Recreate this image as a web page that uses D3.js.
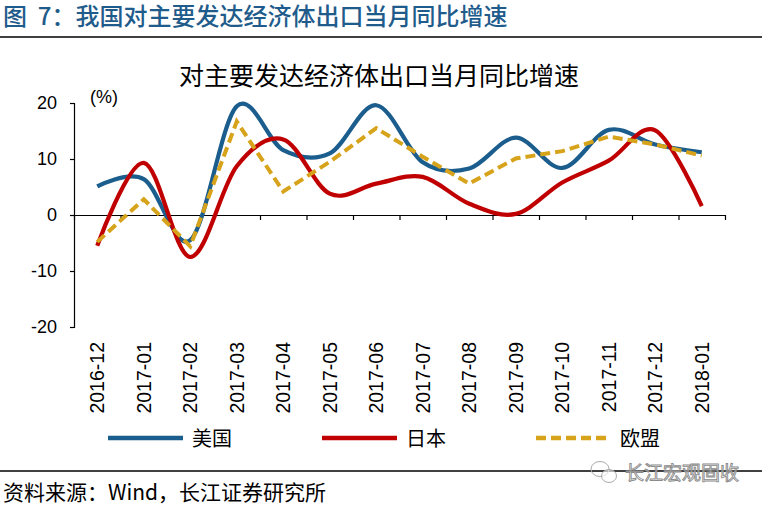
<!DOCTYPE html>
<html>
<head>
<meta charset="utf-8">
<script src="https://cdn.jsdelivr.net/npm/d3@7"></script>
<style>
  html, body { margin: 0; padding: 0; background: #fff; }
  svg { display: block; }
  text { white-space: pre; }
</style>
</head>
<body>
<svg id="chart" width="762" height="506"></svg>
<script>
// ---- data ----
const categories = ["2016-12","2017-01","2017-02","2017-03","2017-04","2017-05","2017-06",
                    "2017-07","2017-08","2017-09","2017-10","2017-11","2017-12","2018-01"];
const usValues = [5.1, 6.4, -4.5, 19.4, 11.6, 11.0, 19.6, 9.4, 8.3, 13.8, 8.4, 15.2, 12.6, 11.2];
const jpValues = [-5.5, 9.3, -7.5, 8.7, 13.5, 3.8, 5.6, 6.8, 2.0, 0.2, 5.8, 9.7, 15.1, 1.6];
const euValues = [-4.8, 2.8, -5.6, 16.7, 4.2, 9.5, 15.5, 10.4, 5.6, 10.1, 11.4, 14.0, 12.6, 10.6];
const seriesNames = ["美国", "日本", "欧盟"];
const yTicks = [-20, -10, 0, 10, 20];
const headerText = "图  7：我国对主要发达经济体出口当月同比增速";
const chartTitle = "对主要发达经济体出口当月同比增速";
const unitLabel = "(%)";
const sourceText = "资料来源：Wind，长江证券研究所";
const watermarkText = "长江宏观固收";

// ---- setup ----
const svg = d3.select("#chart");
const latin = "'Liberation Sans', Arial, 'Noto Sans CJK SC', sans-serif";
const cjk = "'Noto Sans CJK SC', 'Liberation Sans', sans-serif";
const colors = ["#1B5E8E", "#C00000", "#D6A31A"];

const x = d3.scaleBand().domain(categories).range([74, 725]).padding(0);
const y = d3.scaleLinear().domain([-20, 20]).range([327, 103]);
const cx = c => x(c) + x.bandwidth() / 2;

// header
svg.append("text").attr("x", 3).attr("y", 25)
  .attr("font-family", cjk).attr("font-size", 24).attr("font-weight", 500)
  .attr("fill", "#1F5C8B").text(headerText);
svg.append("line").attr("x1", 0).attr("x2", 762).attr("y1", 37).attr("y2", 37)
  .attr("stroke", "#000").attr("stroke-width", 1.5);

// chart title
svg.append("text").attr("x", 379).attr("y", 85).attr("text-anchor", "middle")
  .attr("font-family", cjk).attr("font-size", 25).attr("fill", "#000").text(chartTitle);

// y axis
const yAxis = svg.append("g").attr("transform", "translate(74,0)")
  .call(d3.axisLeft(y).tickValues(yTicks).tickSize(4).tickPadding(13).tickFormat(d => String(d)));
yAxis.select(".domain").attr("stroke", "#000").attr("stroke-width", 1.2);
yAxis.selectAll(".tick line").attr("stroke", "#000").attr("stroke-width", 1.2);
yAxis.selectAll("text").attr("font-family", latin).attr("font-size", 18).attr("fill", "#000");

svg.append("text").attr("x", 90).attr("y", 103)
  .attr("font-family", latin).attr("font-size", 18).attr("fill", "#000").text(unitLabel);

// x axis line at zero with ticks at band edges
const edges = d3.scaleLinear().domain([0, categories.length]).range(x.range());
const xAxis = svg.append("g").attr("transform", `translate(0,${y(0)})`)
  .call(d3.axisBottom(edges).tickValues(d3.range(categories.length + 1)).tickSize(5).tickSizeOuter(0).tickFormat(""));
xAxis.select(".domain").attr("stroke", "#000").attr("stroke-width", 1.2);
xAxis.selectAll(".tick line").attr("stroke", "#000").attr("stroke-width", 1.2);

// x labels at bottom, rotated
const xLab = svg.append("g").attr("transform", "translate(0,342)")
  .call(d3.axisBottom(x).tickSize(0).tickPadding(0));
xLab.select(".domain").remove();
xLab.selectAll("text")
  .attr("transform", "rotate(-90)")
  .attr("x", 0).attr("y", 0).attr("dy", "0.36em")
  .attr("text-anchor", "end")
  .attr("font-family", latin).attr("font-size", 19.5).attr("fill", "#000");

// lines
const smooth = d3.line().x((d, i) => cx(categories[i])).y(d => y(d)).curve(d3.curveCardinal.tension(0));
const straight = d3.line().x((d, i) => cx(categories[i])).y(d => y(d));

svg.append("path").datum(usValues).attr("d", smooth)
  .attr("fill", "none").attr("stroke", colors[0]).attr("stroke-width", 4.2);
svg.append("path").datum(jpValues).attr("d", smooth)
  .attr("fill", "none").attr("stroke", colors[1]).attr("stroke-width", 4.2);
svg.append("path").datum(euValues).attr("d", straight)
  .attr("fill", "none").attr("stroke", colors[2]).attr("stroke-width", 4)
  .attr("stroke-dasharray", "10,5");

// legend
const leg = svg.append("g");
seriesNames.forEach((name, i) => {
  const x0 = 108 + i * 214;
  leg.append("line").attr("x1", x0).attr("x2", x0 + 75).attr("y1", 438).attr("y2", 438)
    .attr("stroke", colors[i]).attr("stroke-width", 4.5)
    .attr("stroke-dasharray", i === 2 ? "10,5" : null);
  leg.append("text").attr("x", x0 + 84).attr("y", 446)
    .attr("font-family", cjk).attr("font-size", 20).attr("fill", "#000").text(name);
});

// bottom rule and source
svg.append("line").attr("x1", 0).attr("x2", 762).attr("y1", 471).attr("y2", 471)
  .attr("stroke", "#000").attr("stroke-width", 1.5);
svg.append("text").attr("x", 3).attr("y", 500)
  .attr("font-family", cjk).attr("font-size", 21).attr("fill", "#000").text(sourceText);

// watermark
const wm = svg.append("g");
wm.append("ellipse").attr("cx", 600).attr("cy", 469).attr("rx", 9).attr("ry", 7.5)
  .attr("fill", "none").attr("stroke", "#aaa").attr("stroke-width", 1);
wm.append("ellipse").attr("cx", 609).attr("cy", 476).attr("rx", 7.5).attr("ry", 6.5)
  .attr("fill", "#fff").attr("fill-opacity", 0.6).attr("stroke", "#aaa").attr("stroke-width", 1);
wm.append("text").attr("x", 625).attr("y", 480)
  .attr("font-family", cjk).attr("font-size", 19).attr("fill", "#fff").attr("fill-opacity", 0.5)
  .attr("stroke", "#8a8a8a").attr("stroke-width", 0.9).text(watermarkText);
</script>
</body>
</html>
